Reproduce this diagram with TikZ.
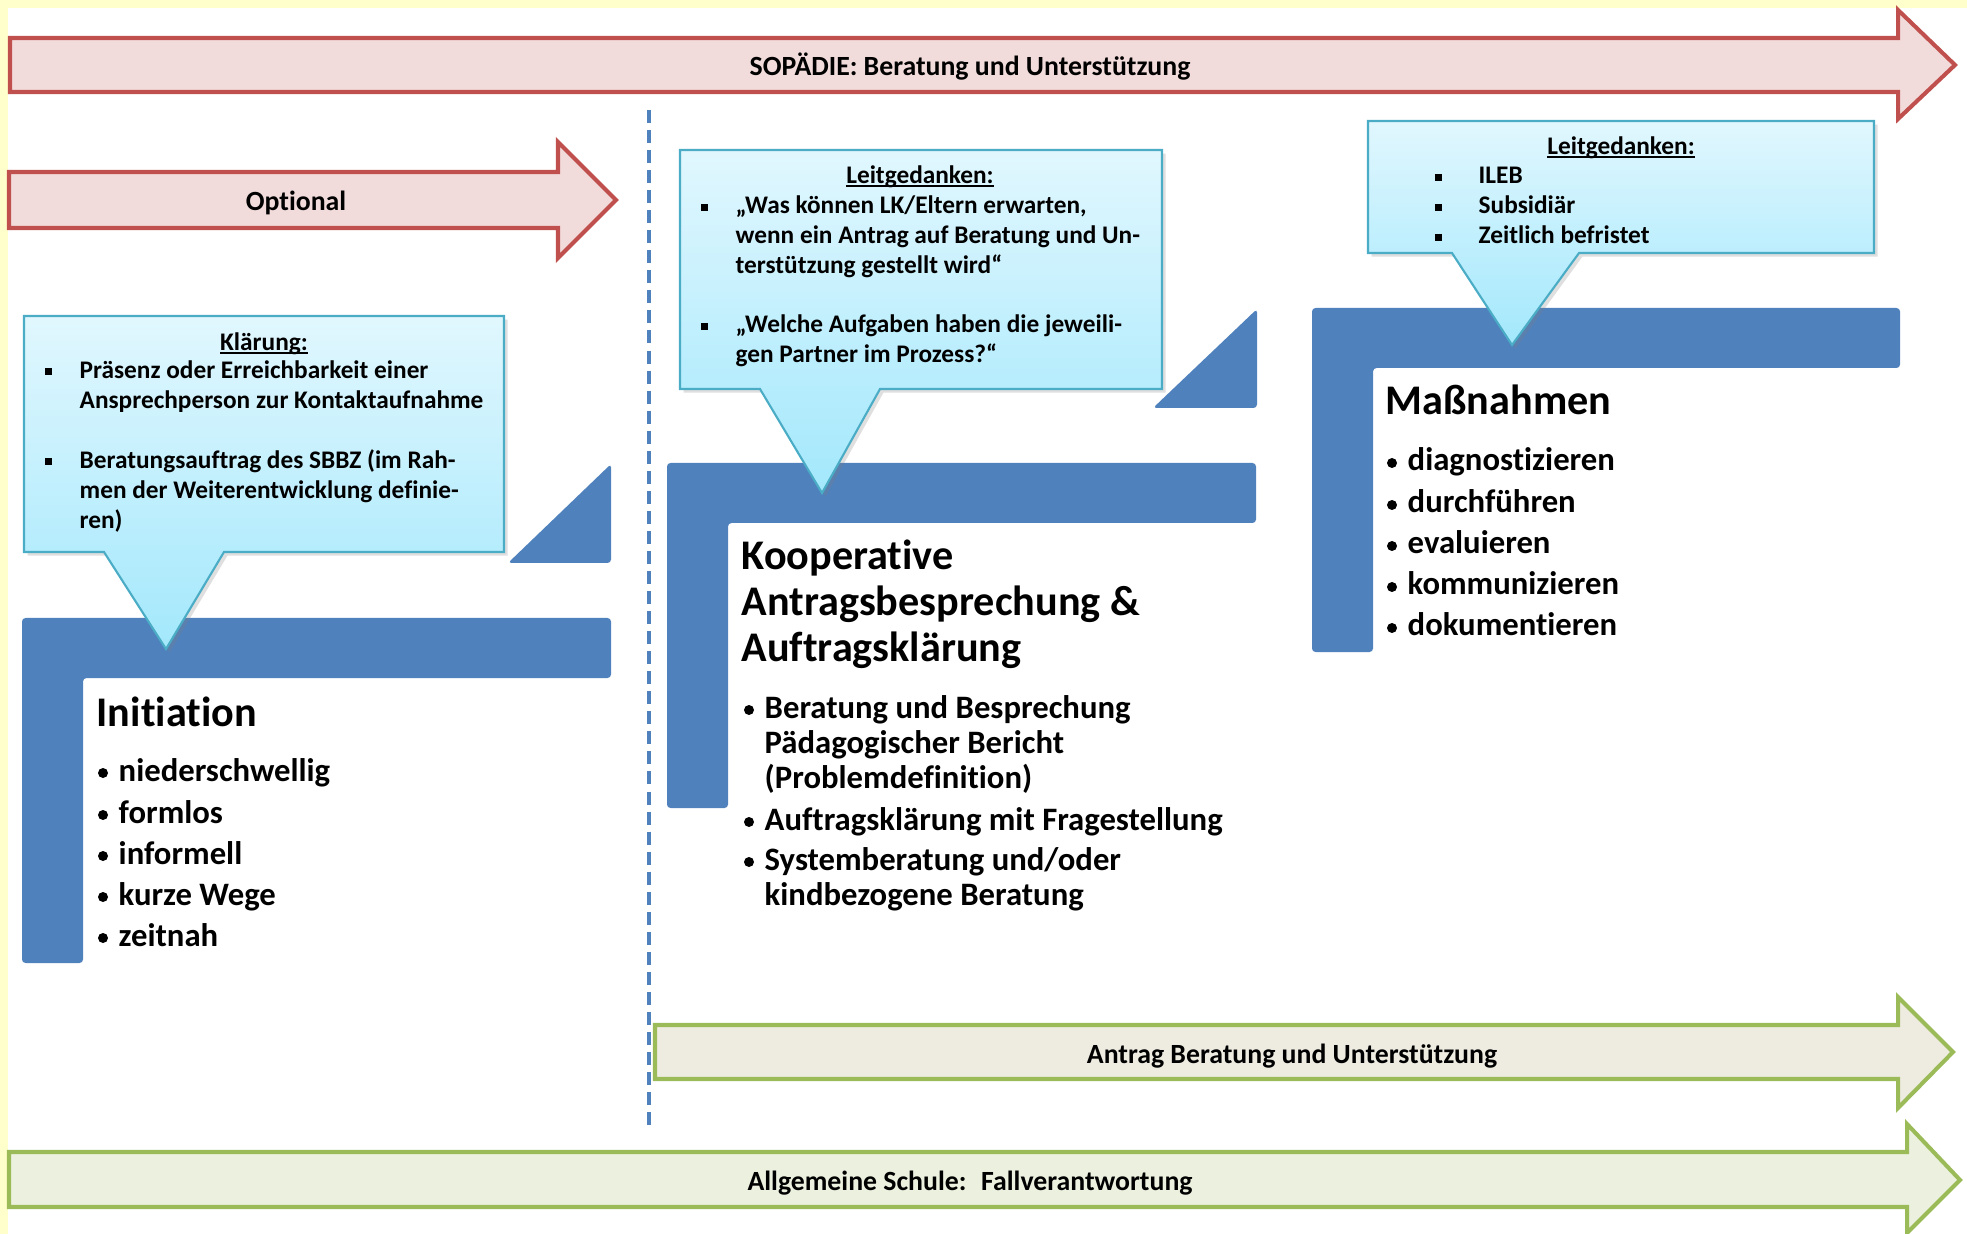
\documentclass[tikz,border=0pt]{standalone}
\usepackage{fontspec}
\setmainfont{Carlito}[Ligatures=NoCommon]
\usetikzlibrary{shadows}
\definecolor{bgyellow}{HTML}{FFFFCC}
\definecolor{redline}{HTML}{C0504D}
\definecolor{redfill}{HTML}{F2DCDB}
\definecolor{greenline}{HTML}{9BBB59}
\definecolor{greenfillA}{HTML}{EEECE1}
\definecolor{greenfillB}{HTML}{EBF1DE}
\definecolor{blueshape}{HTML}{4F81BD}
\definecolor{calloutline}{HTML}{4BACC6}
\definecolor{callouttop}{HTML}{E1F7FE}
\definecolor{calloutbot}{HTML}{A3E8FC}
\newcommand\myul[1]{\leavevmode\setbox0=\hbox{#1}\rlap{\rule[-0.9pt]{\wd0}{0.5pt}}\box0}
\begin{document}
\begin{tikzpicture}[x=0.01cm,y=-0.01cm,
  redarrow/.style={draw=redline,fill=redfill,line width=1.15pt,line join=miter},
  greenarrowA/.style={draw=greenline,fill=greenfillA,line width=1.15pt,line join=miter},
  greenarrowB/.style={draw=greenline,fill=greenfillB,line width=1.15pt,line join=miter},
  arrowtext/.style={font=\fontsize{7.9}{9.5}\selectfont\bfseries,inner sep=0,anchor=base},
  callout/.style={draw=calloutline,line width=0.6pt,top color=callouttop,bottom color=calloutbot,
    drop shadow={shadow xshift=1pt,shadow yshift=-1pt,opacity=0.25}},
  calltext/.style={font=\fontsize{7.2}{8.6}\selectfont\bfseries,inner sep=0,anchor=base west},
  calltitle/.style={font=\fontsize{7.2}{8.6}\selectfont\bfseries,inner sep=0,anchor=base},
  sqbullet/.style={fill=black},
  dotbullet/.style={fill=black},
  bluebar/.style={fill=blueshape,rounded corners=1pt},
  headtext/.style={font=\fontsize{12}{13}\selectfont\bfseries,inner sep=0,anchor=base west},
  itemtext/.style={font=\fontsize{9.3}{10}\selectfont\bfseries,inner sep=0,anchor=base west},
]
\useasboundingbox (0,0) rectangle (1967,1234);
\fill[bgyellow] (0,0) rectangle (1967,1234);
\fill[white] (8,8) rectangle (1967,1234);

% dashed separator
\coordinate (dtop) at (649,110);
\coordinate (dbot) at (649,1126);
\draw[blueshape,line width=0.9pt,dash pattern=on 3.7pt off 2pt] (dtop) -- (dbot);

% arrows
\draw[redarrow] (10,38) -- (1898,38) -- (1898,10) -- (1955,65) -- (1898,119) -- (1898,92) -- (10,92) -- cycle;
\node[arrowtext] (sopaedie) at (970,76) {SOPÄDIE: Beratung und Unterstützung};

\draw[redarrow] (9,172) -- (558,172) -- (558,142) -- (616,200) -- (558,258) -- (558,228) -- (9,228) -- cycle;
\node[arrowtext] (optional) at (296,211) {Optional};

\draw[greenarrowA] (655,1025) -- (1898,1025) -- (1898,997) -- (1953,1052) -- (1898,1108) -- (1898,1079) -- (655,1079) -- cycle;
\node[arrowtext] (antrag) at (1292,1063) {Antrag Beratung und Unterstützung};

\draw[greenarrowB] (9,1152) -- (1907,1152) -- (1907,1124) -- (1960,1180) -- (1907,1233) -- (1907,1207) -- (9,1207) -- cycle;
\node[arrowtext] (allgemein) at (970,1190) {Allgemeine Schule:~ Fallverantwortung};

% blue L shapes and triangles
\fill[bluebar] (22,618) -- (611,618) -- (611,678) -- (83,678) -- (83,963) -- (22,963) -- cycle;
\fill[bluebar] (508,563) -- (611,563) -- (611,464) -- cycle;
\fill[bluebar] (667,463) -- (1256,463) -- (1256,523) -- (728,523) -- (728,808) -- (667,808) -- cycle;
\fill[bluebar] (1153,408) -- (1257,408) -- (1257,309) -- cycle;
\fill[bluebar] (1312,308) -- (1900,308) -- (1900,368) -- (1373,368) -- (1373,652) -- (1312,652) -- cycle;

% callout Klaerung
\draw[callout] (24,316) -- (504,316) -- (504,552) -- (224,552) -- (166,649) -- (104,552) -- (24,552) -- cycle;
\node[calltitle] (klaerung) at (264,351) {\myul{Klärung:}};
\fill[sqbullet] (45,368) rectangle (52,375);
\fill[sqbullet] (45,458) rectangle (52,465);
\node[calltext] (k1) at (79,379) {Präsenz oder Erreichbarkeit einer};
\node[calltext] (k2) at (79,409) {Ansprechperson zur Kontaktaufnahme};
\node[calltext] (k3) at (79,469) {Beratungsauftrag des SBBZ (im Rah-};
\node[calltext] (k4) at (79,499) {men der Weiterentwicklung definie-};
\node[calltext] (k5) at (79,529) {ren)};

% callout Leitgedanken middle
\draw[callout] (680,150) -- (1162,150) -- (1162,389) -- (880,389) -- (822,493) -- (760,389) -- (680,389) -- cycle;
\node[calltitle] (leitA) at (920,184) {\myul{Leitgedanken:}};
\fill[sqbullet] (701,204) rectangle (708,211);
\fill[sqbullet] (701,323) rectangle (708,330);
\node[calltext] (m1) at (735,214) {„Was können LK/Eltern erwarten,};
\node[calltext] (m2) at (735,244) {wenn ein Antrag auf Beratung und Un-};
\node[calltext] (m3) at (735,274) {terstützung gestellt wird“};
\node[calltext] (m4) at (735,333) {„Welche Aufgaben haben die jeweili-};
\node[calltext] (m5) at (735,363) {gen Partner im Prozess?“};

% callout Leitgedanken right
\draw[callout] (1368,121) -- (1874,121) -- (1874,253) -- (1579,253) -- (1512,345) -- (1452,253) -- (1368,253) -- cycle;
\node[calltitle] (leitB) at (1621,155) {\myul{Leitgedanken:}};
\fill[sqbullet] (1435,174) rectangle (1442,181);
\fill[sqbullet] (1435,204) rectangle (1442,211);
\fill[sqbullet] (1435,234) rectangle (1442,241);
\node[calltext] (r1) at (1478,184) {ILEB};
\node[calltext] (r2) at (1478,214) {Subsidiär};
\node[calltext] (r3) at (1478,244) {Zeitlich befristet};

% Initiation
\node[headtext] (init) at (96,726) {Initiation};
\foreach \yy/\tt [count=\i] in {781/niederschwellig,823/formlos,864/informell,905/kurze Wege,946/zeitnah}{
  \fill[dotbullet] (103,\yy-8) circle (5);
  \node[itemtext] (it\i) at (118,\yy) {\tt};
}

% Kooperative
\node[headtext] (koop1) at (741,570) {Kooperative};
\node[headtext] (koop2) at (741,616) {Antragsbesprechung \&};
\node[headtext] (koop3) at (741,662) {Auftragsklärung};
\fill[dotbullet] (749,710) circle (5);
\node[itemtext] (kt1) at (764,718) {Beratung und Besprechung};
\node[itemtext] (kt2) at (764,753) {Pädagogischer Bericht};
\node[itemtext] (kt3) at (764,788) {(Problemdefinition)};
\fill[dotbullet] (749,822) circle (5);
\node[itemtext] (kt4) at (764,830) {Auftragsklärung mit Fragestellung};
\fill[dotbullet] (749,862) circle (5);
\node[itemtext] (kt5) at (764,870) {Systemberatung und/oder};
\node[itemtext] (kt6) at (764,905) {kindbezogene Beratung};

% Massnahmen
\node[headtext] (mass) at (1385,415) {Maßnahmen};
\foreach \yy/\tt [count=\i] in {471/diagnostizieren,513/durchführen,554/evaluieren,595/kommunizieren,636/dokumentieren}{
  \fill[dotbullet] (1392,\yy-8) circle (5);
  \node[itemtext] (mt\i) at (1407,\yy) {\tt};
}
\end{tikzpicture}
\end{document}
